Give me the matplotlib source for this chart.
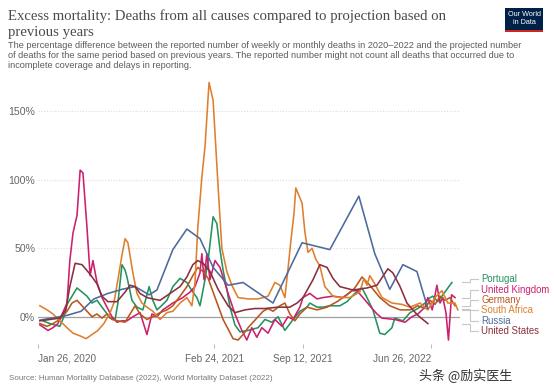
import numpy as np
import pandas as pd
import matplotlib
matplotlib.use("Agg")
import matplotlib.pyplot as plt
from matplotlib.lines import Line2D
from matplotlib.patches import Rectangle

# ---------------- data (week offsets since START, excess mortality %) ----------------
START = pd.Timestamp("2020-01-26")

portugal_weeks = [1.6, 3.8, 7, 8.3, 9.3, 10.9, 12.5, 14.1, 15.7, 17.3, 18.9, 20.5, 21.5, 23.1, 24.7, 25.6,
                  26.9, 27.9, 28.5, 30.1, 31.7, 33.6, 35.6, 36.8, 38.1, 39.1, 41.3, 43.2, 45.5, 47.7, 49.3,
                  50.9, 51.9, 53.5, 54.5, 56.1, 57.3, 58.3, 59.3, 60.5, 61.5, 63.1, 64.7, 67.3, 70.5, 72.7,
                  74.9, 76.9, 79.1, 81.4, 83.9, 86.2, 87.1, 89.4, 91.3, 93.5, 96.7, 99, 101.5, 103.8, 105.4,
                  107.3, 109.5, 111.1, 113.4, 114.3, 116.9, 119.2, 121.7, 124, 124.9, 126.5, 128.1, 129.7,
                  131, 132.6]
portugal_vals = [-3, -5, -7, 0, 9, 15, 21, 18, 15, 10, 12, 7, 4, -1, -2, 10,
                 38, 34, 29, 12, 7, 5, 22, 12, 5, 7, 12, 22, 28, 25, 19,
                 14, 8, 27, 41, 73, 68, 49, 34, 20, 7, -6, -11, -10, -8, -2,
                 -4, 0, -10, -3, 4, 7, 10, 7, 7, 8, 8, 11, 17, 21, 14,
                 5, -12, -13, -8, -1, -3, 3, 6, 10, 13, 15, 11, 16,
                 20, 25]

uk_weeks = [0.6, 1.3, 3.2, 4.8, 6.4, 9.3, 10.2, 11.2, 12.5, 13.5, 14.4, 15.7, 16.7, 17.6, 18.9, 20.5,
            22.1, 23.7, 25.3, 26.9, 28.5, 30.4, 32.7, 34.9, 36.5, 38.1, 40, 43.2, 46.4, 48.7, 50.3,
            51.9, 52.5, 53.2, 54.1, 55.1, 56.7, 58.3, 60.9, 63.1, 65.3, 66.9, 68.5, 70.1, 71.7, 73.7,
            75.9, 78.2, 80.1, 81.7, 83.9, 84.9, 87.1, 89.4, 91.3, 94.5, 97.7, 100.6, 102.2, 104.1,
            106.3, 108.6, 110.2, 114.3, 117.6, 119.8, 121.7, 124, 124.9, 126.3, 127.8, 128.8, 129.7,
            130.7, 131.5, 132.5, 133.6]
uk_vals = [-6, -7, -10, -8, -5, 10, 41, 61, 74, 107, 105, 65, 30, 41, 25, 14,
           7, 0, -4, -3, -3, 0, 3, -13, 2, 0, 5, 10, 14, 18, 22,
           32, 46, 27, 46, 27, 41, 36, 17, 2, -10, -17, -8, -15, -8, -12,
           -2, -7, 0, -2, 7, 14, 17, 13, 14, 15, 14, 19, 19, 14,
           8, 2, -1, -2, -4, 0, 2, 7, 14, 5, 23, 10, 14,
           3, -17, 16, 14]

germany_weeks = [0.6, 2.9, 4.8, 7, 9.3, 10.9, 12.5, 14.1, 15.7, 17.3, 18.9, 20.5, 22.1, 23.7, 25.6,
                 27.9, 29.5, 31.1, 32.7, 34.9, 36.8, 39.1, 41.3, 43.2, 45.5, 47.7, 49.6, 51.2, 52.9,
                 54.5, 56.1, 57.7, 59.3, 60.9, 62.5, 64.1, 65.7, 67.3, 68.9, 70.5, 72.1, 73.7, 75.3,
                 77.5, 79.1, 80.7, 82.3, 83.9, 86.2, 89.4, 92.6, 95.8, 99, 101.5, 103.8, 106.3, 109.5,
                 112.7, 116, 119.2, 121.7, 124, 125.6, 127.2, 128.8, 130.4, 132, 133.6]
germany_vals = [-5, -7, -5, -2, 4, 10, 12, 8, 4, 0, 2, -1, 2, -2, -3,
                -4, 2, 8, 2, -2, 0, 3, 5, 8, 15, 22, 30, 36, 33,
                28, 18, 8, -2, -9, -16, -17, -13, -8, -4, 0, 4, 6, 4,
                8, 10, 2, -3, 2, 7, 5, 7, 11, 16, 21, 29, 23, 14,
                8, 5, 5, 8, 6, 12, 9, 15, 12, 14, 8]

south_africa_weeks = [0.6, 2.9, 4.8, 7, 9.3, 11.2, 13.5, 15.4, 17.3, 19.2, 21.1, 23.1, 24.3, 25.6, 26.9,
                      27.9, 28.8, 30.4, 31.7, 33.3, 34.9, 36.8, 39.1, 41.3, 43.2, 45.5, 47.7, 49.3,
                      50.3, 51.2, 52.5, 53.5, 54.8, 56.1, 57.7, 58.9, 60.5, 62.1, 64.1, 67.3, 70.5,
                      73.7, 75.9, 77.5, 79.1, 80.1, 81, 82, 82.6, 84.6, 85.5, 86.5, 87.8, 89, 90.3,
                      91.9, 94.5, 96.7, 99.9, 103.1, 104.4, 105.4, 106.3, 107.9, 110.2, 113.4, 116.6,
                      119.2, 122.4, 124.9, 127.2, 129.4, 131.3, 133.6, 134.5]
south_africa_vals = [8, 5, 2, -3, -8, -12, -14, -16, -13, -10, -5, 3, 10, 27, 45,
                     57, 54, 32, 17, 10, 7, 4, -2, 3, 4, 10, 14, 8,
                     25, 65, 102, 124, 171, 158, 95, 50, 33, 23, 14, 13, 13,
                     15, 25, 23, 14, 35, 55, 75, 94, 83, 62, 47, 50, 42, 37,
                     22, 15, 14, 14, 18, 28, 23, 30, 24, 14, 10, 9,
                     7, 10, 5, 14, 19, 10, 10, 5]

russia_weeks = [0.6, 9.3, 13.8, 17.9, 22.4, 26.9, 31.1, 35.6, 38.1, 43.2, 47.7, 51.9, 56.1, 60.9,
                65.7, 75.3, 84.6, 93.5, 102.8, 107.9, 112.7, 116.9, 121.4, 124.9]
russia_vals = [-2.5, 1, 4, 13, 17, 20, 22, 16, 19.5, 49, 64, 57, 36, 23,
               25, 10, 54, 49, 88, 46, 20, 38, 33, 6]

us_weeks = [0.6, 3.8, 7, 8.9, 10.2, 11.9, 14.1, 16.7, 18.9, 20.5, 22.4, 25.3, 27.9, 29.5, 31.1,
            32.7, 34.9, 36.8, 39.1, 42.3, 45.5, 47.7, 49.6, 51.2, 52.9, 55.1, 57.7, 60.9, 63.1,
            66.3, 69.5, 72.7, 76.9, 80.7, 83, 84.9, 88.1, 90.3, 92.6, 94.5, 96.7, 100.9, 105.4,
            108.6, 112.1, 113.7, 116, 118.2, 120.1, 121.7, 124.9]
us_vals = [-3, -2, -1, 5, 22, 39, 38, 31, 24, 15, 11, 11, 18, 23, 22,
           17, 14, 13, 12, 17, 22, 29, 38, 41, 39, 33, 20, 8, 3,
           5, 6, 6, 7, 7, 10, 14, 27, 38, 36, 28, 22, 19.5, 21,
           23, 35, 32, 22, 10, 5, 1, -5]

series_names = ["Portugal", "United Kingdom", "Germany", "South Africa", "Russia", "United States"]
series_colors = ["#23935f", "#cc1f6e", "#b8561e", "#df7f2e", "#4c6a9c", "#8a2f3c"]
series_weeks = [portugal_weeks, uk_weeks, germany_weeks, south_africa_weeks, russia_weeks, us_weeks]
series_vals = [portugal_vals, uk_vals, germany_vals, south_africa_vals, russia_vals, us_vals]

y_ticks = [0, 50, 100, 150]
y_tick_labels = ["0%", "50%", "100%", "150%"]
x_tick_dates = ["2020-01-26", "2021-02-24", "2021-09-12", "2022-06-26"]
x_tick_labels = ["Jan 26, 2020", "Feb 24, 2021", "Sep 12, 2021", "Jun 26, 2022"]

title_lines = ["Excess mortality: Deaths from all causes compared to projection based on",
               "previous years"]
subtitle_lines = ["The percentage difference between the reported number of weekly or monthly deaths in 2020\u20132022 and the projected number",
                  "of deaths for the same period based on previous years. The reported number might not count all deaths that occurred due to",
                  "incomplete coverage and delays in reporting."]
source_text = "Source: Human Mortality Database (2022), World Mortality Dataset (2022)"
watermark_text = "\u5934\u6761 @\u52b1\u5b9e\u533b\u751f"


def to_dates(weeks):
    return START + pd.to_timedelta(np.asarray(weeks, dtype=float) * 7, unit="D")


# ---------------- figure ----------------
W, H = 554, 391
fig = plt.figure(figsize=(W / 100, H / 100), dpi=100)
fig.patch.set_facecolor("white")


def fx(px):
    return px / W


def fy(py):
    return 1 - py / H


ax = fig.add_axes([fx(38), fy(344), fx(460) - fx(38), fy(80) - fy(344)])
ax.set_facecolor("white")

for w, v, c in zip(series_weeks, series_vals, series_colors):
    ax.plot(to_dates(w), v, color=c, lw=1.15, solid_joinstyle="round", zorder=3)

ax.set_ylim(-19.9, 172.8)
ax.set_xlim(START, START + pd.Timedelta(days=135.2 * 7))

ax.set_yticks(y_ticks)
ax.set_yticklabels(y_tick_labels)
for s in ax.spines.values():
    s.set_visible(False)
ax.tick_params(axis="y", length=0, pad=2, labelsize=7.6, labelcolor="#666666")
for t in ax.get_yticklabels():
    t.set_fontfamily("Liberation Sans")

for yv in y_ticks[1:]:
    ax.axhline(yv, color="#dddddd", lw=0.8, ls=(0, (1, 1.5)), zorder=1)
ax.axhline(0, color="#a0a0a0", lw=0.9, zorder=2)

xt = pd.to_datetime(x_tick_dates)
ax.set_xticks(xt)
ax.set_xticklabels(x_tick_labels)
ax.tick_params(axis="x", length=3, width=0.7, color="#bbbbbb", pad=4, labelsize=7.2, labelcolor="#666666")
xtl = ax.get_xticklabels()
for i, t in enumerate(xtl):
    t.set_fontfamily("Liberation Sans")
    if i == 0:
        t.set_ha("left")
    elif i == len(xtl) - 1:
        t.set_ha("right")
    else:
        t.set_ha("center")

# ---------------- legend labels with connectors ----------------
fig.canvas.draw()
label_py = [279, 290, 300, 310, 321, 331]
for name, c, w, v, ly in zip(series_names, series_colors, series_weeks, series_vals, label_py):
    ex, ey = ax.transData.transform((matplotlib.dates.date2num(to_dates(w)[-1]), v[-1]))
    ey_top = H - ey
    xs = [fx(462), fx(470), fx(470), fx(478)]
    ys = [fy(ey_top), fy(ey_top), fy(ly), fy(ly)]
    fig.add_artist(Line2D(xs, ys, transform=fig.transFigure, color="#c8c8c8", lw=0.8))
    fig.text(fx(481), fy(ly), name, color=c, fontsize=6.9, family="Liberation Sans",
             va="center", ha="left")

# ---------------- texts ----------------
fig.text(fx(8), fy(20), title_lines[0], fontsize=10.6, family="Liberation Serif",
         color="#4a4a4a", va="baseline", ha="left")
fig.text(fx(8), fy(36), title_lines[1], fontsize=10.6, family="Liberation Serif",
         color="#4a4a4a", va="baseline", ha="left")
for i, line in enumerate(subtitle_lines):
    fig.text(fx(8), fy(48 + i * 10), line, fontsize=6.55, family="Liberation Sans",
             color="#5b5b5b", va="baseline", ha="left")

fig.text(fx(9), fy(380), source_text, fontsize=5.8, family="Liberation Sans",
         color="#777777", va="baseline", ha="left")
fig.text(fx(512), fy(380), watermark_text, fontsize=9.4, family=["Noto Sans CJK SC", "DejaVu Sans"],
         color="#333333", va="baseline", ha="right")

# OWID logo
fig.add_artist(Rectangle((fx(505), fy(32)), fx(543) - fx(505), fy(8) - fy(32),
                         transform=fig.transFigure, facecolor="#002147", edgecolor="none"))
fig.add_artist(Rectangle((fx(505), fy(32)), fx(543) - fx(505), fy(29.5) - fy(32),
                         transform=fig.transFigure, facecolor="#ce261e", edgecolor="none"))
fig.text(fx(524), fy(18.5), "Our World\nin Data", fontsize=5.2, family="Liberation Sans",
         color="white", va="center", ha="center", linespacing=1.0)

fig.savefig("out.png", dpi=100, facecolor="white")
